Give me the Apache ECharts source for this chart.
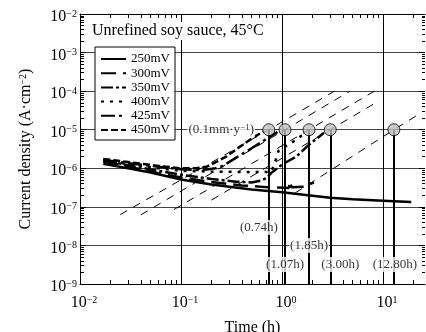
<!DOCTYPE html>
<html><head><meta charset="utf-8">
<script src="https://cdn.jsdelivr.net/npm/echarts@6/dist/echarts.min.js"></script>
<style>html,body{margin:0;padding:0;background:#fff}#c{width:426px;height:332px}</style>
</head><body><div id="c"></div>
<script>
// ---- data (time in h, current density in A/cm^2) ----
const seriesNames = ['250mV','300mV','350mV','400mV','425mV','450mV'];
const s250 = [[0.017,1.3e-6],[0.03,1.0e-6],[0.05,7.8e-7],[0.1,5.1e-7],[0.2,3.8e-7],[0.5,2.8e-7],[1,2.4e-7],[2,1.95e-7],[3,1.72e-7],[5,1.58e-7],[10,1.45e-7],[19,1.33e-7]];
const s300 = [[0.017,1.5e-6],[0.03,1.1e-6],[0.06,7.5e-7],[0.1,5.8e-7],[0.2,4.4e-7],[0.4,3.6e-7],[0.74,3.2e-7],[1.07,3.15e-7],[1.17,3.1e-7],[1.2,4.6e-7],[1.24,3.2e-7],[1.65,3.3e-7],[2.07,4.3e-7]];
const s350 = [[0.017,1.6e-6],[0.03,1.2e-6],[0.06,8.6e-7],[0.1,6.8e-7],[0.2,5.3e-7],[0.35,4.5e-7],[0.5,4.3e-7],[0.62,4.8e-7],[0.7,5.6e-7],[0.78,7.5e-7],[1.0,1.25e-6],[1.38,2.0e-6],[1.85,4.1e-6],[2.6,8.3e-6]];
const s400 = [[0.017,1.55e-6],[0.03,1.3e-6],[0.06,1.0e-6],[0.1,8.6e-7],[0.2,8.2e-7],[0.47,8.0e-7],[0.78,8.0e-7],[0.85,1.4e-6],[0.92,2.8e-6],[1.1,3.8e-6],[1.4,5.6e-6],[1.7,8.5e-6]];
const s425 = [[0.017,1.65e-6],[0.03,1.35e-6],[0.06,1.1e-6],[0.1,9.4e-7],[0.16,9.0e-7],[0.22,1.0e-6],[0.26,1.15e-6],[0.34,1.8e-6],[0.5,3.3e-6],[0.68,5.5e-6],[0.9,8.7e-6]];
const s450 = [[0.017,1.75e-6],[0.03,1.45e-6],[0.06,1.15e-6],[0.1,1.0e-6],[0.14,1.0e-6],[0.18,1.1e-6],[0.28,2.0e-6],[0.37,3.4e-6],[0.52,6.3e-6],[0.65,8.9e-6]];
// extrapolation (thin dashed) lines
const ref1 = [[0.025,6.3e-8],[0.74,1e-5],[3.3,1e-4]];
const ref2 = [[0.04,6.2e-8],[1.07,1e-5],[4.7,1e-4]];
const ref3 = [[0.085,8.5e-8],[1.85,1e-5],[8.2,1e-4]];
const ref4 = [[0.2,1.5e-7],[3.0,1e-5],[9.0,5.5e-5]];
const ref5 = [[1.35,2.3e-7],[12.8,1e-5],[23,2.6e-5]];
// pitting times (h) at the 0.1 mm/y current density
const pitT = [0.74,1.07,1.85,3.00,12.80];
const pitI = 1e-5;
const pitLabels = ['(0.74h)','(1.07h)','(1.85h)','(3.00h)','(12.80h)'];
const xTicks = [0.01,0.1,1,10];
const yTicks = [1e-9,1e-8,1e-7,1e-6,1e-5,1e-4,1e-3,1e-2];

// ---- layout ----
const labelI = [2.9e-8,3.2e-9,1.0e-8,3.2e-9,3.2e-9];
const labelDX = [-10,0,0,10,1];
const rateLabelT = 0.25;
const FONT = '"Liberation Serif","Times New Roman",serif';
const L = Math.log10;
const XMIN = L(xTicks[0]), XMAX = L(26);
const YMIN = L(yTicks[0]), YMAX = L(yTicks[yTicks.length-1]);
const majX = xTicks.map(L), majY = yTicks.map(L);
function minors(lo, hi){const r=[];for(let d=Math.floor(lo);d<hi;d++){for(let k=2;k<=9;k++){const v=d+Math.log10(k);if(v>lo&&v<hi)r.push(v);}}return r;}
const minX = minors(XMIN, XMAX), minY = minors(YMIN, YMAX);
const tr = arr => arr.map(p => [L(p[0]), L(p[1])]);
const sup = v => {const n=Math.round(v);return '{b|10}{s|'+(n<0?'\u2212':'')+Math.abs(n)+'}';};
const rich = {
  b:{fontFamily:FONT,fontSize:16,lineHeight:16,verticalAlign:'bottom',color:'#000'},
  s:{fontFamily:FONT,fontSize:10,lineHeight:10,verticalAlign:'top',padding:[0,0,8,0],color:'#000'}
};
const richSmall = {
  s:{fontFamily:FONT,fontSize:9,lineHeight:9,verticalAlign:'top',padding:[0,0,5,0],color:'#000'}
};
const blk = {color:'#000',width:1};
function axisX(pos, ticks, len, main){
  return {type:'value', position:pos, min:XMIN, max:XMAX, interval:1,
    axisLine:{show:main, onZero:false, lineStyle:blk},
    axisTick:{show:true, inside:true, length:len, customValues:ticks, lineStyle:blk},
    axisLabel:{show:false}, splitLine:{show:false}};
}
function axisY(pos, ticks, len, line){
  return {type:'value', position:pos, min:YMIN, max:YMAX, interval:1,
    axisLine:{show:line, onZero:false, lineStyle:blk},
    axisTick:{show:true, inside:true, length:len, customValues:ticks, lineStyle:blk},
    axisLabel:{show:false}, splitLine:{show:false}};
}
const xMain = axisX('bottom', majX, 6, true);
xMain.axisLabel = {show:true, customValues:majX, formatter:sup, rich:rich, margin:11, padding:[0,0,0,8]};
xMain.splitLine = {show:true, lineStyle:{color:'#000',width:1}};
xMain.name = 'Time (h)'; xMain.nameLocation = 'middle'; xMain.nameGap = 36;
xMain.nameTextStyle = {fontFamily:FONT,fontSize:16,color:'#000'};
const yMain = axisY('left', majY, 6, true);
yMain.axisLabel = {show:true, customValues:majY, formatter:sup, rich:rich, margin:3, padding:[6,0,0,0]};
yMain.splitLine = {show:true, lineStyle:{color:'#444',width:1}};
yMain.name = 'Current density (A\u00b7cm{s|\u22122})'; yMain.nameLocation = 'middle'; yMain.nameGap = 46;
yMain.nameTextStyle = {fontFamily:FONT,fontSize:16,color:'#000',rich:{s:{fontFamily:FONT,fontSize:10,lineHeight:10,verticalAlign:'top',padding:[0,0,7,0],color:'#000'}}};

const dashes = {'250mV':'solid','300mV':[15,7],'350mV':[12,3,3,3],'400mV':[3,6],'425mV':[14,4,3,4],'450mV':[7,3]};
const dataMap = {'250mV':s250,'300mV':s300,'350mV':s350,'400mV':s400,'425mV':s425,'450mV':s450};
const series = [];
[ref1,ref2,ref3,ref4,ref5].forEach((r,i)=>{
  series.push({type:'line', name:'ref'+i, data:tr(r), symbol:'none', silent:true, z:2,
    lineStyle:{color:'#000', width:1, type:[8,7]}});
});
series[0].markLine = {silent:true, symbol:['none','arrow'], symbolSize:[0,6], label:{show:false},
  lineStyle:{color:'#000', width:2, type:'solid'}, emphasis:{disabled:true}, animation:false,
  data: pitT.map(t => [{coord:[L(t), L(pitI)]},{coord:[L(t), YMIN]}])};
seriesNames.forEach(n=>{
  series.push({type:'line', name:n, data:tr(dataMap[n]), symbol:'none', z:3, color:'#000',
    lineStyle:{color:'#000', width:2.5, type:dashes[n], cap:'butt'}});
});
series.push({type:'scatter', name:'pit', z:10, symbolSize:12, silent:true,
  itemStyle:{color:'#bdbdbd', borderColor:'#000', borderWidth:1},
  data: pitT.map(t=>[L(t), L(pitI)])});
series.push({type:'scatter', name:'labels', z:11, symbolSize:1, silent:true,
  itemStyle:{color:'rgba(0,0,0,0)'},
  label:{show:true, position:'inside', color:'#000', fontFamily:FONT, fontSize:13, backgroundColor:'#fff', padding:[1,1],
    formatter: p => p.data.text, rich:richSmall},
  data: pitT.map((t,i)=>({value:[L(t), L(labelI[i])], text:pitLabels[i], label:{offset:[labelDX[i],0]}}))
    .concat([{value:[L(rateLabelT), L(pitI)], text:'(0.1mm\u00b7y{s|\u22121})', label:{offset:[0,0]}}])});

const chart = echarts.init(document.getElementById('c'), null, {renderer:'canvas'});
chart.setOption({
  animation:false,
  color:['#000'],
  backgroundColor:'#fff',
  textStyle:{fontFamily:FONT},
  title:{text:'Unrefined soy sauce, 45\u00b0C', left:90, top:22, padding:[1,2], backgroundColor:'#fff',
    textStyle:{fontFamily:FONT, fontSize:16, fontWeight:'normal', color:'#000'}},
  grid:{left:80, right:1, top:14, bottom:48, containLabel:false, outerBoundsMode:'none'},
  legend:{data:seriesNames, orient:'vertical', left:95, top:47, padding:[5,5,3,5], itemGap:0.2,
    itemWidth:25, itemHeight:14, backgroundColor:'#fff', borderColor:'#000', borderWidth:1, borderRadius:0,
    itemStyle:{opacity:0},
    selectedMode:false, textStyle:{fontFamily:FONT, fontSize:13, color:'#000', lineHeight:14}},
  xAxis:[xMain, axisX('bottom', minX, 4, false), axisX('top', majX, 6, true), axisX('top', minX, 4, false)],
  yAxis:[yMain, axisY('left', minY, 4, false), axisY('right', majY, 6, false), axisY('right', minY, 3, false)],
  series: series
});
</script></body></html>
